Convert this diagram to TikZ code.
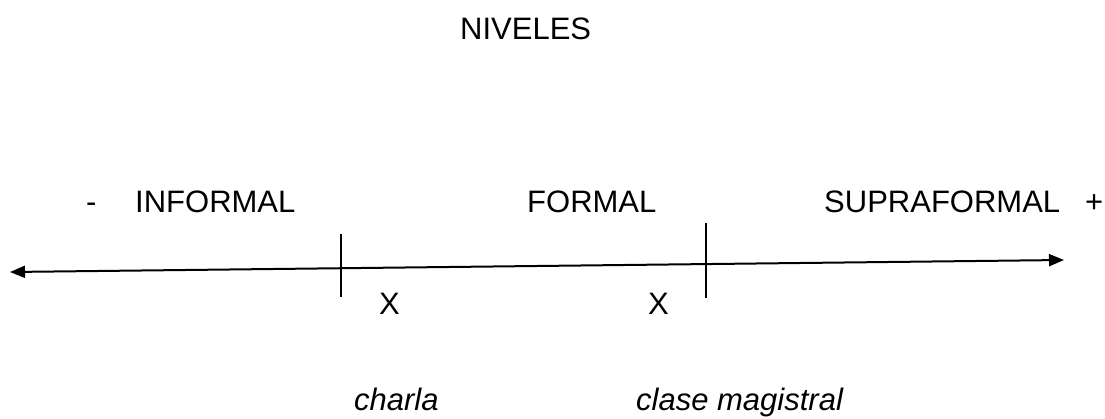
\documentclass[tikz,border=0pt]{standalone}
\usepackage{fontspec}
\setmainfont{Liberation Sans}
\usetikzlibrary{arrows.meta}
\begin{document}
\begin{tikzpicture}[x=1pt,y=-1pt,
  lbl/.style={anchor=base west,inner sep=0pt,font=\fontsize{31}{37}\selectfont},
  ilbl/.style={lbl,font=\fontsize{31}{37}\selectfont\itshape},
  axis/.style={line width=2pt,{Triangle[length=15pt,width=12pt]}-{Triangle[length=15pt,width=12pt]}},
  tick/.style={line width=2pt}]
\useasboundingbox (0,0) rectangle (1105,419);
\node[lbl] (niv) at (460,40) {NIVELES};
\node[lbl] (minus) at (86,213) {-};
\node[lbl] (inf) at (135,213) {INFORMAL};
\node[lbl] (for) at (527,213) {FORMAL};
\node[lbl] (sup) at (824,213) {SUPRAFORMAL};
\node[lbl] (plus) at (1085,213) {+};
\coordinate (L) at (10,272);
\coordinate (R) at (1064,260);
\draw[axis] (L) -- (R);
\coordinate (t1a) at (341,234);
\coordinate (t1b) at (341,297);
\coordinate (t2a) at (706,223);
\coordinate (t2b) at (706,298);
\draw[tick] (t1a) -- (t1b);
\draw[tick] (t2a) -- (t2b);
\node[lbl] (x1) at (379,315) {X};
\node[lbl] (x2) at (648,315) {X};
\node[ilbl] (ch) at (354,410) {charla};
\node[ilbl] (cm) at (636,410) {clase magistral};
\end{tikzpicture}
\end{document}
